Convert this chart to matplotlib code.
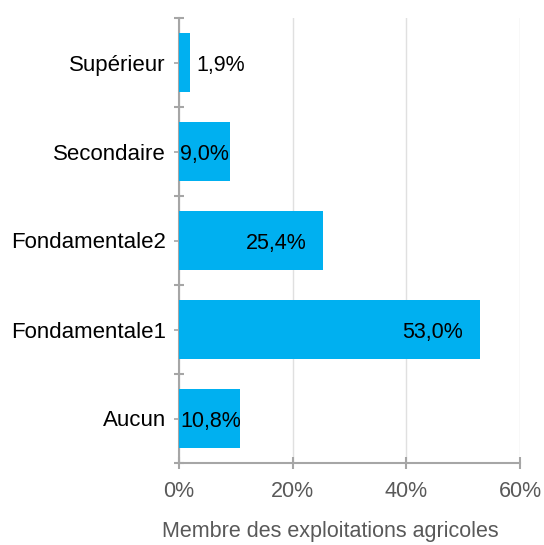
import matplotlib.pyplot as plt

plt.rcParams["font.family"] = ["Liberation Sans", "DejaVu Sans"]

categories = ["Aucun", "Fondamentale1", "Fondamentale2", "Secondaire", "Supérieur"]
values = [10.8, 53.0, 25.4, 9.0, 1.9]
xticks = [0, 20, 40, 60]

BAR = "#00b0f0"
AXIS = "#a6a6a6"
GRID = "#e0e0e0"
DIM = "#595959"

fig = plt.figure(figsize=(5.44, 5.45), dpi=100)
ax = fig.add_axes([179 / 544, 1 - 463 / 545, 341 / 544, 445 / 545])

pos = list(range(len(categories)))
ax.barh(pos, values, height=0.67, color=BAR, zorder=3)
ax.set_xlim(0, 60)
ax.set_ylim(-0.5, len(categories) - 0.5)

ax.set_xticks(xticks)
ax.set_xticklabels([f"{t}%" for t in xticks], fontsize=15.5, color=DIM)
ax.xaxis.grid(True, color=GRID, linewidth=1, zorder=0)
ax.tick_params(axis="x", length=8, width=1.5, color=AXIS, pad=9, direction="inout")

ax.set_yticks(pos)
ax.set_yticklabels(categories, fontsize=16, color="black")
ax.tick_params(axis="y", length=3.5, width=1.2, color=AXIS, pad=6)
ax.set_yticks([p - 0.5 for p in pos] + [len(pos) - 0.5], minor=True)
ax.tick_params(axis="y", which="minor", length=7, width=1.5, color=AXIS, direction="inout")

for s in ["top", "right"]:
    ax.spines[s].set_visible(False)
ax.spines["left"].set_color(AXIS)
ax.spines["left"].set_linewidth(1.5)
ax.spines["bottom"].set_color(AXIS)
ax.spines["bottom"].set_linewidth(1.5)

for p, v in zip(pos, values):
    lab = f"{v:.1f}%".replace(".", ",")
    if v > 20:
        ax.text(v - 3.0, p - 0.03, lab, ha="right", va="center", fontsize=15.5, zorder=4)
    elif v > 5:
        ax.text(0.2, p - 0.03, lab, ha="left", va="center", fontsize=15.5, zorder=4)
    else:
        ax.text(v + 1.2, p - 0.03, lab, ha="left", va="center", fontsize=15.5, zorder=4)

fig.text(330 / 544, 1 - 531 / 545, "Membre des exploitations agricoles",
         ha="center", va="center", fontsize=15.5, color=DIM)

fig.savefig("out.png", dpi=100)
